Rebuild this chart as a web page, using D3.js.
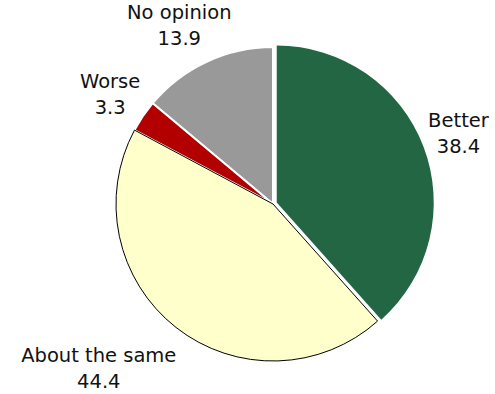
<!DOCTYPE html>
<html>
<head>
<meta charset="utf-8">
<script src="https://cdn.jsdelivr.net/npm/d3@7"></script>
<style>
  html, body { margin: 0; padding: 0; background: #fff; }
  svg { display: block; }
  text { font-family: "DejaVu Sans", sans-serif; font-size: 19.5px; fill: #111; }
</style>
</head>
<body>
<svg id="chart" width="495" height="394"></svg>
<script>
// Survey answers, clockwise from 12 o'clock
const categories = ["Better", "About the same", "Worse", "No opinion"];
const values = [38.4, 44.4, 3.3, 13.9];
const colors = ["#226644", "#ffffcc", "#b20000", "#999999"];

const W = 495, H = 394;
const cx = 273, cy = 204, radius = 157;
const explode = 4;        // the "Better" wedge is pulled out a little
const lineH = 26;
const pad = 13;           // gap between each label line and the pie edge

const svg = d3.select("#chart");
const g = svg.append("g").attr("transform", `translate(${cx},${cy})`);

const pie = d3.pie().sort(null).value(d => d.value);
const arc = d3.arc().innerRadius(0).outerRadius(radius);

const data = categories.map((c, i) => ({ name: c, value: values[i], color: colors[i] }));
const arcs = pie(data);

// draw order: yellow last so its dark outline sits on top
const drawOrder = [0, 3, 2, 1];
drawOrder.forEach(i => {
  const d = arcs[i];
  const mid = (d.startAngle + d.endAngle) / 2;
  const off = i === 0 ? explode : 0;
  const path = g.append("path")
    .attr("d", arc(d))
    .attr("transform", `translate(${Math.sin(mid) * off},${-Math.cos(mid) * off})`)
    .attr("fill", d.data.color);
  if (d.data.name === "About the same") {
    path.attr("stroke", "#000").attr("stroke-width", 1);
  } else if (i !== 0) {
    path.attr("stroke", "#fff").attr("stroke-width", 2).attr("stroke-linejoin", "round");
  }
});

// distance from the pie centre to the nearest point of a box
function boxDist(x0, y0, x1, y1) {
  const nx = Math.max(x0, Math.min(0, x1));
  const ny = Math.max(y0, Math.min(0, y1));
  return Math.hypot(nx, ny);
}

// labels: two lines (name, value), pushed outward until each line is clear of the pie
arcs.forEach(d => {
  const mid = (d.startAngle + d.endAngle) / 2;
  const dx = Math.sin(mid), dy = -Math.cos(mid);
  const t = g.append("text").attr("text-anchor", "middle");
  const lines = [d.data.name, d3.format(".1f")(d.data.value)];
  const spans = lines.map((s, k) =>
    t.append("tspan").attr("x", 0).attr("y", k * lineH).text(s));
  const bb = t.node().getBBox();
  const lineBoxes = spans.map(sp => sp.node().getBBox());
  const midY = bb.y + bb.height / 2;

  const clear = (x, y) => lineBoxes.every(b => {
    const ox = x + b.x, oy = y + b.y - midY;
    return boxDist(ox, oy, ox + b.width, oy + b.height) >= radius + pad;
  });

  let s = 0, x = 0, y = 0;
  while (true) {
    x = dx * s; y = dy * s;
    if (clear(x, y)) break;
    s += 0.5;
  }
  // keep the block inside the drawing, then slide sideways to clear the pie
  const half = bb.height / 2;
  const yMax = H - cy - half - 1, yMin = -cy + half + 1;
  if (y > yMax || y < yMin) {
    y = Math.max(yMin, Math.min(yMax, y));
    while (!clear(x, y)) x += dx < 0 ? -0.5 : 0.5;
  }
  t.attr("transform", `translate(${x},${y - midY})`);
});
</script>
</body>
</html>
